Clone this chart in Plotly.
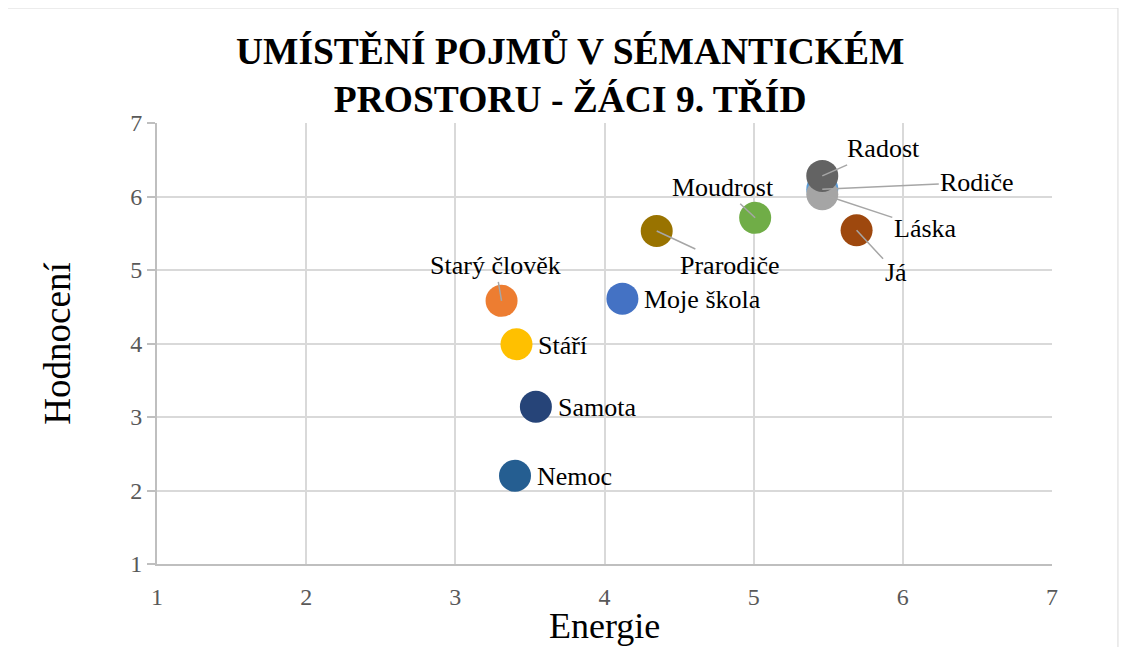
import plotly.graph_objects as go

names = ["Moje škola", "Starý člověk", "Rodiče", "Láska", "Stáří", "Moudrost",
         "Samota", "Já", "Radost", "Prarodiče", "Nemoc"]
energie = [4.12, 3.31, 5.46, 5.46, 3.41, 5.01, 3.54, 5.69, 5.46, 4.35, 3.40]
hodnoceni = [4.61, 4.58, 6.10, 6.03, 3.99, 5.71, 3.14, 5.54, 6.28, 5.53, 2.20]
colors = ["#4472C4", "#ED7D31", "#5B9BD5", "#A5A5A5", "#FFC000", "#70AD47",
          "#264478", "#9E480E", "#636363", "#997300", "#255E91"]
x_ticks = [1, 2, 3, 4, 5, 6, 7]
y_ticks = [1, 2, 3, 4, 5, 6, 7]

# label offsets (pixels) from marker; others => plain label to the right
label_offsets = {
    "Radost": (61, -27),
    "Rodiče": (155, -7),
    "Láska": (103, 34),
    "Moudrost": (-32, -30),
    "Prarodiče": (73, 34),
    "Já": (39, 42),
    "Starý člověk": (-6, -35),
}

FONT = "Liberation Serif"
LBL = 26

fig = go.Figure()
for n, xv, yv, c in zip(names, energie, hodnoceni, colors):
    fig.add_trace(go.Scatter(
        x=[xv], y=[yv], mode="markers", name=n,
        marker=dict(size=32, color=c, line=dict(width=0)),
        hoverinfo="name+x+y", showlegend=False))

annotations = []
for n, xv, yv in zip(names, energie, hodnoceni):
    if n in label_offsets:
        ax, ay = label_offsets[n]
        annotations.append(dict(
            x=xv, y=yv, xref="x", yref="y", text=n, showarrow=True,
            ax=ax, ay=ay, arrowhead=0, arrowwidth=1.5, arrowcolor="#A6A6A6",
            standoff=0, font=dict(family=FONT, size=LBL, color="#000000")))
    else:
        annotations.append(dict(
            x=xv, y=yv, xref="x", yref="y", text=n, showarrow=False,
            xanchor="left", xshift=20, yshift=-1,
            font=dict(family=FONT, size=LBL, color="#000000")))

# x-axis title as an annotation below the tick labels
annotations.append(dict(
    x=0.5, y=-0.141, xref="paper", yref="paper", text="Energie", showarrow=False,
    xanchor="center", yanchor="middle",
    font=dict(family=FONT, size=36, color="#000000")))

# page body has an 8px margin; compensate so the plot area lands where the reference has it
fig.update_layout(
    width=1111, height=639,
    margin=dict(l=149, r=67, t=115, b=83, autoexpand=False),
    paper_bgcolor="white", plot_bgcolor="white",
    title=dict(text="<b>UMÍSTĚNÍ POJMŮ V SÉMANTICKÉM<br>PROSTORU - ŽÁCI 9. TŘÍD</b>",
               x=0.506, xanchor="center", y=0.913, yanchor="middle",
               font=dict(family=FONT, size=37.5, color="#000000")),
    annotations=annotations,
    shapes=[dict(type="rect", xref="paper", yref="paper",
                 x0=-0.1698, x1=1.0737, y0=-0.25, y1=1.2608,
                 line=dict(color="#D9D9D9", width=1), layer="below")],
)
fig.update_xaxes(
    range=[1, 7], tickvals=x_ticks, showgrid=True, gridcolor="#D9D9D9", gridwidth=1.5,
    zeroline=False, showline=True, linecolor="#BFBFBF", linewidth=2,
    ticks="", ticklabelstandoff=10, automargin=False,
    tickfont=dict(family=FONT, size=24, color="#595959"),
)
fig.update_yaxes(
    range=[1, 7], tickvals=y_ticks, showgrid=True, gridcolor="#D9D9D9", gridwidth=1.5,
    zeroline=False, showline=True, linecolor="#BFBFBF", linewidth=2,
    ticks="outside", ticklen=8, tickcolor="#BFBFBF", tickwidth=1.5, automargin=False,
    tickfont=dict(family=FONT, size=24, color="#595959"),
    title=dict(text="Hodnocení", font=dict(family=FONT, size=37, color="#000000"), standoff=48),
)

fig.write_html("out.html")
